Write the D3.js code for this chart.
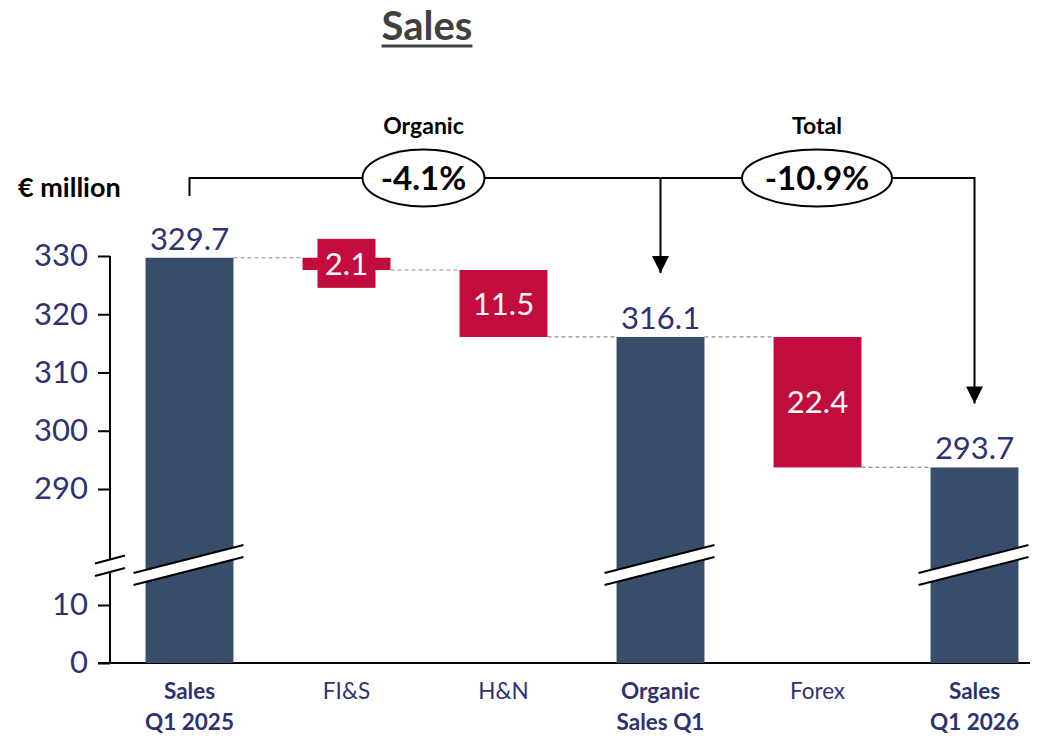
<!DOCTYPE html>
<html><head><meta charset="utf-8">
<script src="https://cdn.jsdelivr.net/npm/d3@7"></script>
<style>
html,body{margin:0;padding:0;background:#fff;}
svg{display:block;font-family:Lato, "Open Sans", sans-serif;}
</style></head>
<body>
<svg id="chart" width="1043" height="741"></svg>
<script>
const categoriesLine1 = ["Sales", "FI&S", "H&N", "Organic", "Forex", "Sales"];
const categoriesLine2 = ["Q1 2025", "", "", "Sales Q1", "", "Q1 2026"];
const barTypes = ["total", "delta", "delta", "total", "delta", "total"];
const barValues = [329.7, -2.1, -11.5, 316.1, -22.4, 293.7];
const yTicks = [0, 10, 290, 300, 310, 320, 330];
const bracketLabels = ["Organic", "Total"];

const navy = "#2E3272", barBlue = "#384D6C", red = "#C20C3E";
const svg = d3.select("#chart");
const loc = d3.formatLocale({decimal: ".", thousands: ",", grouping: [3], currency: ["", ""], minus: "-"});

// compute waterfall
let run = 0;
const bars = barValues.map((v, i) => {
  let lo, hi;
  if (barTypes[i] === "total") { lo = 0; hi = v; run = v; }
  else { const s = run; run = s + v; lo = Math.min(s, run); hi = Math.max(s, run); }
  return {i, v, lo, hi, end: run, type: barTypes[i]};
});

const x = d3.scaleBand().domain(d3.range(6)).range([111, 1053]).paddingInner(0.44).paddingOuter(0.22);
const y = d3.scaleLinear().domain([0, 10, 290, 330]).range([663, 605, 489, 256]);
const bw = x.bandwidth();

// Title
const title = svg.append("text").attr("x", 427).attr("y", 40).attr("text-anchor", "middle")
  .attr("font-size", 40).attr("font-weight", "bold").attr("fill", "#404040").text("Sales");
const tw = title.node().getComputedTextLength();
svg.append("line").attr("x1", 427 - tw / 2).attr("x2", 427 + tw / 2).attr("y1", 46).attr("y2", 46)
  .attr("stroke", "#404040").attr("stroke-width", 3);

// unit
svg.append("text").attr("x", 18).attr("y", 197).attr("font-size", 27).attr("font-weight", "bold")
  .attr("fill", "#000").text("€ million");

// Y axis
const yAxis = d3.axisLeft(y).tickValues(yTicks).tickSize(12).tickSizeOuter(0).tickFormat(d3.format("d"));
const ga = svg.append("g").attr("transform", "translate(110,0)").call(yAxis);
ga.select(".domain").attr("d", `M0,${y(330)}V${y(0)}`).attr("stroke", "#000").attr("stroke-width", 2);
ga.selectAll(".tick line").attr("stroke", "#000").attr("stroke-width", 2).attr("x1", -12).attr("x2", 0);
ga.selectAll(".tick text").attr("x", -22).attr("font-size", 31).attr("fill", navy)
  .attr("font-family", "Lato, sans-serif");

// X axis line
svg.append("line").attr("x1", 98).attr("x2", 1030).attr("y1", y(0)).attr("y2", y(0))
  .attr("stroke", "#000").attr("stroke-width", 2);

// dashed connectors
for (let i = 0; i < bars.length - 1; i++) {
  const lvl = bars[i].end;
  svg.append("line").attr("x1", x(i) + bw).attr("x2", x(i + 1)).attr("y1", y(lvl)).attr("y2", y(lvl))
    .attr("stroke", "#909090").attr("stroke-width", 1.2).attr("stroke-dasharray", "4,3");
}

// bars
svg.selectAll("rect.bar").data(bars).join("rect").attr("class", "bar")
  .attr("x", d => x(d.i)).attr("width", bw)
  .attr("y", d => y(d.hi)).attr("height", d => y(d.lo) - y(d.hi))
  .attr("fill", d => d.type === "total" ? barBlue : red);

// break marks
function breakMark(x0, x1, yl, yr, gap) {
  svg.append("path").attr("d", `M${x0},${yl}L${x1},${yr}L${x1},${yr + gap}L${x0},${yl + gap}Z`).attr("fill", "#fff");
  svg.append("line").attr("x1", x0).attr("x2", x1).attr("y1", yl).attr("y2", yr).attr("stroke", "#000").attr("stroke-width", 2);
  svg.append("line").attr("x1", x0).attr("x2", x1).attr("y1", yl + gap).attr("y2", yr + gap).attr("stroke", "#000").attr("stroke-width", 2);
}
bars.filter(d => d.type === "total").forEach(d => {
  breakMark(x(d.i) - 12, x(d.i) + bw + 10, 573, 545, 12);
});
breakMark(95, 125, 563.5, 555.5, 12.5);

// value labels
bars.forEach(d => {
  const cx = x(d.i) + bw / 2;
  if (d.type === "total") {
    svg.append("text").attr("x", cx).attr("y", y(d.hi) - 8).attr("text-anchor", "middle")
      .attr("font-size", 31).attr("fill", navy).text(d.v.toFixed(1));
  } else {
    const h = y(d.lo) - y(d.hi);
    const cy = (y(d.lo) + y(d.hi)) / 2;
    if (h < 40) {
      svg.append("rect").attr("x", cx - 29).attr("y", cy - 25).attr("width", 58).attr("height", 49).attr("fill", red);
    }
    svg.append("text").attr("x", cx).attr("y", cy).attr("dy", "0.36em").attr("text-anchor", "middle")
      .attr("font-size", 31).attr("fill", "#fff").text(Math.abs(d.v).toFixed(1));
  }
});

// category labels
categoriesLine1.forEach((c, i) => {
  const cx = x(i) + bw / 2;
  const bold = barTypes[i] === "total";
  const t = svg.append("text").attr("text-anchor", "middle").attr("font-size", 22.5)
    .attr("font-weight", bold ? "bold" : "normal").attr("fill", navy);
  t.append("tspan").attr("x", cx).attr("y", 699).text(c);
  if (categoriesLine2[i]) t.append("tspan").attr("x", cx).attr("y", 730).text(categoriesLine2[i]);
});

// brackets
const xc = i => x(i) + bw / 2;
const by = 178;
svg.append("defs").append("marker").attr("id", "arr").attr("viewBox", "0 0 10 10")
  .attr("refX", 10).attr("refY", 5).attr("markerWidth", 17).attr("markerHeight", 17)
  .attr("markerUnits", "userSpaceOnUse").attr("orient", "auto")
  .append("path").attr("d", "M0,0L10,5L0,10Z").attr("fill", "#000");
svg.append("path").attr("d", `M${xc(0)},196V${by}H${xc(3)}`).attr("fill", "none").attr("stroke", "#000").attr("stroke-width", 2);
svg.append("path").attr("d", `M${xc(3)},${by}V${y(bars[3].hi) - 64}`).attr("fill", "none").attr("stroke", "#000").attr("stroke-width", 2).attr("marker-end", "url(#arr)");
svg.append("path").attr("d", `M${xc(3)},${by}H${xc(5)}V${y(bars[5].hi) - 64}`).attr("fill", "none").attr("stroke", "#000").attr("stroke-width", 2).attr("marker-end", "url(#arr)");

const pctFmt = loc.format(".1%");
const organicPct = bars[3].v / bars[0].v - 1;
const totalPct = bars[5].v / bars[0].v - 1;
const ells = [
  {cx: 423.5, rx: 61, label: bracketLabels[0], val: pctFmt(organicPct)},
  {cx: 817, rx: 75, label: bracketLabels[1], val: pctFmt(totalPct)}
];
ells.forEach(e => {
  svg.append("ellipse").attr("cx", e.cx).attr("cy", 178).attr("rx", e.rx).attr("ry", 28.5)
    .attr("fill", "#fff").attr("stroke", "#000").attr("stroke-width", 2);
  svg.append("text").attr("x", e.cx).attr("y", 178).attr("dy", "0.36em").attr("text-anchor", "middle")
    .attr("font-size", 33).attr("font-weight", "bold").attr("fill", "#000").text(e.val);
  svg.append("text").attr("x", e.cx).attr("y", 134).attr("text-anchor", "middle")
    .attr("font-size", 23).attr("font-weight", "bold").attr("fill", "#000").text(e.label);
});
</script>
</body></html>
